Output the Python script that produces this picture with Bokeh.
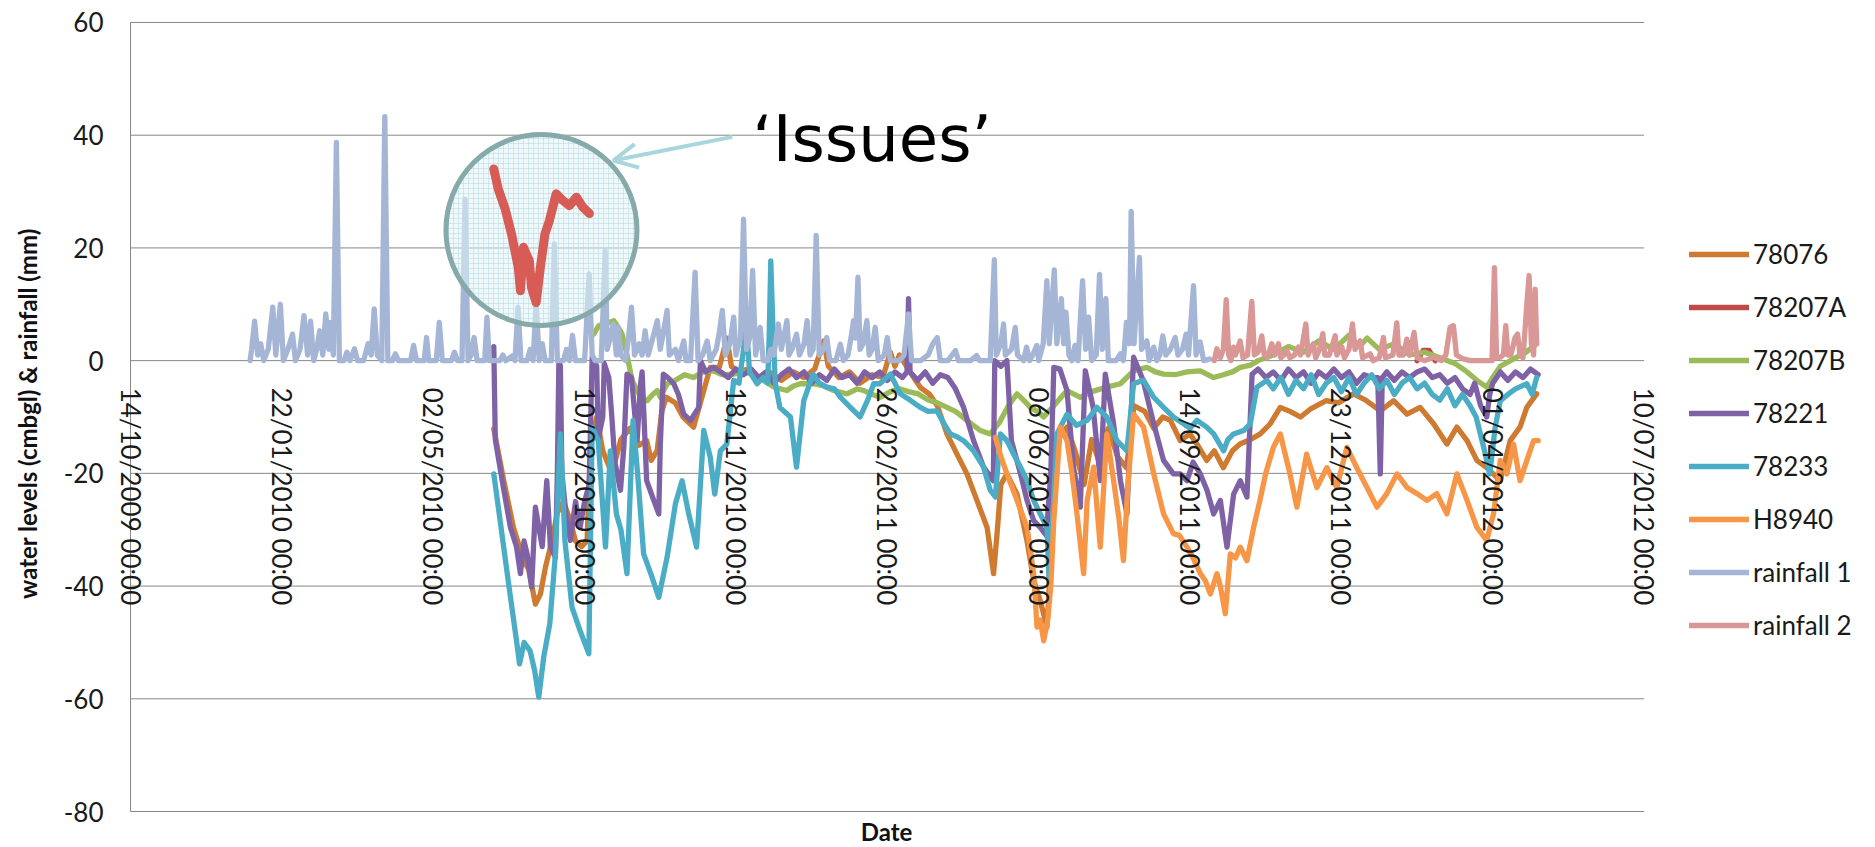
import math
from datetime import datetime
import numpy as np
from bokeh.plotting import figure
from bokeh.models import (Range1d, Legend, LegendItem, Arrow, OpenHead, Label, LabelSet,
                          ColumnDataSource)
from bokeh.core.properties import value
from bokeh.embed import file_html
from bokeh.resources import INLINE

# ---------------- data (day = days after 14/10/2009 00:00) ----------------
START_DATE = "2009-10-14"
END_DATE = "2012-07-10"
tick_dates = ["2009-10-14", "2010-01-22", "2010-05-02", "2010-08-10", "2010-11-18",
              "2011-02-26", "2011-06-06", "2011-09-14", "2011-12-23", "2012-04-01",
              "2012-07-10"]
y_ticks = [-80, -60, -40, -20, 0, 20, 40, 60]
y_tick_labels = ["-80", "-60", "-40", "-20", "0", "20", "40", "60"]

series_names = ["78076", "78207A", "78207B", "78221", "78233", "H8940",
                "rainfall 1", "rainfall 2"]

s_78076 = [(240, -12.1), (246.6, -21.3), (253, -29.6), (259.8, -35.5), (263, -37),
           (267.5, -43.2), (270.8, -41.4), (274.1, -36.7), (278.5, -31.9), (282, -27),
           (286, -25), (290, -28), (294, -32), (298, -33), (301.6, -32), (304, -15),
           (308, -10), (312, -16), (318, -20), (324, -14), (330, -12), (336, -15),
           (341, -14.2), (344, -17.7), (347.9, -16), (351, -9), (354, -6.5), (360, -7.5),
           (365, -10), (372, -11.8), (378, -6), (383, -1.2), (389, -1.2), (394, 4),
           (397, -1), (402, -2), (408, -1.5), (415, -3), (422, -2), (430, -3.5),
           (438, -2), (445, -3), (452, -1.5), (458, 3.5), (461, -1), (468, -3),
           (475, -2), (482, -4), (490, -2.5), (497, -3), (502, 1.5), (505, -1),
           (508, 1), (515, -2), (522, -4.8), (528, -6), (533, -8), (539.4, -13),
           (546, -16.6), (552.6, -20.1), (559.2, -24.8), (565.9, -29.6), (570.2, -37.8),
           (572.5, -30.7), (575, -22), (579, -20.1), (585.7, -23.7), (592.3, -32),
           (596.7, -39), (601, -42.6), (605.5, -47.3), (608, -35), (612, -14.2),
           (618.7, -11.8), (624, -16), (630, -22), (635, -14), (640, -18), (646, -12),
           (652, -17), (658, -19), (663, -8), (670, -9), (676, -12), (682, -10),
           (687, -10.6), (693.5, -14.2), (700, -13), (705, -15), (711, -17.7),
           (716, -16), (722, -19), (728, -16), (733, -14.8), (740, -14), (746.4, -13),
           (753, -11.2), (759.6, -8.3), (766, -9), (773, -10), (780, -8.5), (790, -7.1),
           (798, -7.5), (808, -5.9), (816, -7), (825.7, -8.9), (834.5, -7.1),
           (843.3, -9.5), (852, -8.3), (860.9, -11.2), (869.7, -14.8), (876.3, -11.8),
           (883, -14.2), (889.5, -17.7), (896, -19), (905, -21.3), (911.5, -14.2),
           (918, -11.8), (922.5, -8.3), (929, -5.9)]

s_78207A = [(850, 0), (854, 1.8), (858, 1.8), (862, 0)]

s_78207B = [(306, 4.7), (309.4, 6.2), (314, 6.5), (319.3, 7.1), (322, 6), (324.8, 4.7),
            (328, 1), (331.4, -3.5), (337, -6.5), (341.3, -7.1), (345, -6), (348, -5.3),
            (350, -6.5), (354.5, -4.1), (360, -3.5), (366, -2.5), (372, -3), (378, -2),
            (385, -1.8), (391, -2.5), (398.5, -2.4), (405, -2), (411.7, -2.4),
            (418, -3.5), (425, -4.7), (433.7, -5.3), (438, -4.5), (442.5, -4.1),
            (451, -4.1), (458, -4.5), (464.6, -5.3), (473.4, -5.9), (480, -5),
            (484.4, -5.3), (490, -6), (495.4, -6.5), (502, -5.5), (508, -5), (514, -5.5),
            (520.5, -5.9), (527, -7), (533, -7.5), (539.4, -8.3), (545, -9),
            (552.6, -10.6), (561.4, -12.4), (568, -13), (574, -11), (580, -8),
            (585.7, -5.9), (590, -7), (594.5, -8.3), (599, -9), (603.3, -10), (610, -8),
            (618.7, -5.3), (627.5, -6.5), (635, -5.5), (645, -4.7), (654, -4.1),
            (662.7, -1.8), (671.5, -1.2), (677, -2), (682.5, -2.4), (690, -2.5),
            (698, -2), (706.8, -1.8), (715.6, -3), (722, -2.5), (728, -2), (733.2, -1.2),
            (740, -0.8), (745, 0), (755, 1), (765, 2.5), (775, 1.5), (785, 3.5),
            (795, 2), (805, 4.5), (812, 2.5), (817, 4), (825, 2), (835, 3), (845, 1),
            (855, 1.5), (865, 0.5), (875, -0.5), (883, -2), (889.5, -3.5), (896, -4.7),
            (900, -3), (905, -1), (915, 0.5), (922, 1.5), (929, 3)]

s_78221 = [(240, 2.5), (241, -14), (246, -22), (251, -29.6), (255, -33), (257.6, -37.8),
           (260, -32), (262, -34.3), (265, -40.2), (267.5, -26), (270, -30), (272, -33),
           (275, -21.3), (277.4, -33), (280.7, -34.9), (282, -20), (283, 0), (284, -1),
           (285, -20), (288, -28), (290.6, -31.9), (294, -25), (297, -29.6), (300, -25),
           (303, -22), (305, 0.6), (308, -1), (309, -14), (312, -10), (313, -0.5),
           (316, -3), (318, -10), (320, -18), (323.7, -23), (326, -15), (328, -2.4),
           (331, -3), (334.7, -14.2), (337, -4), (338, -2), (341, -21.3), (345.7, -24.8),
           (349, -27.2), (350, -15), (352, -2.4), (355, -3), (358.9, -4.1), (362, -6),
           (365.5, -9.5), (370, -10.6), (375.4, -8.3), (376.5, 0), (380, -2),
           (385, -1.2), (390, -2), (395, -3), (400, -1.5), (405, -2.5), (410, -1.5),
           (415, -3), (420, -2), (425, -4), (430, -2.5), (435, -1.5), (440, -3),
           (445, -2), (450, -4), (455, -2.5), (460, -3.5), (465, -1.5), (470, -3),
           (475, -2.5), (480, -4), (485, -2), (490, -3), (495, -2), (500, -3.5),
           (505, -2), (510, -3), (513, -2), (514, 11), (515, -2), (520, -3.5), (525, -2),
           (530, -4), (535, -2.5), (540, -3), (545, -5), (550.4, -8.3), (557, -14.2),
           (563.6, -18.9), (570, -21.3), (571, 0), (575, -1), (579, 0), (582, -14.2),
           (588, -20.1), (592.3, -24.8), (596.7, -28.4), (601, -29.6), (605, -31),
           (608, -20), (610, -1.2), (614, -1.5), (618.7, -5.3), (623, -18.9),
           (627.5, -26), (630.8, -1.8), (636, -8.3), (640.7, -21.3), (644, -2.4),
           (649.5, -11.2), (654, -21.3), (658.3, -27.2), (662.7, 0.6), (669, -3.5),
           (676, -11.2), (682.5, -17.7), (689, -20.1), (693.6, -20.1), (698, -21.3),
           (702, -18), (706.8, -20.1), (711.2, -23), (715.6, -27.2), (720, -24.8),
           (724.4, -33.1), (728.8, -23.7), (733.2, -21.3), (737.6, -24.2), (741, -2.4),
           (745, -1.5), (750, -3), (755, -2), (760, -3.5), (765, -1.5), (770, -3),
           (775, -2), (780, -4), (785, -2), (790, -3), (795, -1.5), (800, -3), (805, -2),
           (810, -4), (815, -2.5), (820, -3), (824, -3), (825.7, -20.1), (827, -3),
           (830, -2), (835, -3.5), (840, -2), (845, -3), (850, -2), (855, -1.5),
           (860, -3), (865, -2.5), (870, -4), (875, -3), (880, -5), (885, -6), (888, -4),
           (892, -8), (896, -10), (898, -6), (900, -4), (905, -2), (910, -3.5),
           (915, -2), (920, -3), (925, -1.5), (930, -2.5)]

s_78233 = [(240, -20.1), (245, -30), (250, -40), (255, -49.7), (257, -53.8), (260, -50),
           (264, -51.5), (267, -55), (269.7, -59.7), (273, -52.6), (277, -46.7),
           (280.7, -34.3), (284, -13), (287, -32), (291.7, -43.8), (297, -47.9),
           (302.8, -52), (305, -11.8), (309, -14.2), (313.8, -33.1), (317, -16),
           (321, -27.2), (324, -30), (328, -37.8), (332, -10.6), (335, -20), (339, -34.3),
           (344, -38), (349, -42), (354.5, -34.9), (360, -25.4), (364.4, -21.3),
           (368.8, -27.2), (374, -33.1), (378.7, -12.4), (383, -17.1), (386, -23.7),
           (389.7, -16), (394, -14.8), (398.5, -3.5), (402, -4), (405, 2), (407, 5.9),
           (409, -2), (414, -4.1), (418, -3), (421, -4), (422, 5), (423, 17.7),
           (424.5, 5), (426, -4), (429, -8.3), (436, -10), (440, -18.9), (444.8, -7.1),
           (451, -2.4), (455, -4), (460, -4.7), (465, -5), (469, -6.5), (475.6, -8.3),
           (482, -10), (487, -7), (491, -4.1), (495, -4.1), (502, -2.4), (508.6, -5.9),
           (515, -7), (521.8, -8.3), (527, -9), (532.8, -8.9), (537, -11), (541.6, -13),
           (546, -13.5), (550.4, -14.2), (557, -16), (563.6, -18.9), (568, -23),
           (571.4, -24.2), (574.7, -13), (579, -14.2), (583.5, -16.6), (588, -18.9),
           (592.3, -21.3), (596.7, -24.8), (601, -27.2), (605.5, -29.6), (607, -40),
           (609, -30), (612, -13), (618.7, -9.5), (625, -11.5), (632, -10.6),
           (638.5, -8.3), (645, -10), (651.7, -14.2), (658.3, -16), (662.7, -4.1),
           (669.3, -3.5), (676, -6.5), (682.5, -8.3), (689, -10), (695.8, -11.2),
           (700, -12), (704.6, -10.6), (711, -11.8), (715.6, -13), (722.2, -16),
           (725, -14), (728.8, -13), (735.4, -12.4), (739.8, -11.2), (744.2, -4.7),
           (750.8, -3.5), (755, -5), (760, -3), (765, -6), (770, -3.5), (775, -5),
           (780, -2.5), (785, -6), (790, -4), (795, -3), (800, -5.5), (805, -3),
           (810, -6), (815, -4), (820, -2.5), (825, -5), (830, -3.5), (835, -6),
           (840, -4), (845, -3), (850, -5), (855, -4), (860, -6), (865, -7), (870, -5),
           (875, -8), (880, -6), (885, -8), (889, -10), (894, -15.4), (898, -20.1),
           (901.6, -11.8), (905, -7.1), (910, -6), (915, -5), (922.5, -4.1), (926, -6),
           (929, -3)]

s_H8940 = [(571.4, -13.6), (575, -17), (579, -20.1), (585.7, -24.8), (592.3, -29.6),
           (596.7, -37.8), (598.9, -47.3), (601, -46), (603.3, -49.7), (606, -46),
           (608, -40), (610, -28.4), (614.3, -11.8), (618.7, -14.2), (622, -20),
           (625.3, -27.2), (629.7, -37.8), (632, -24.8), (636.3, -18.9), (640.7, -33.1),
           (645, -13), (649.5, -21.3), (653, -28), (656, -35.5), (659, -22),
           (662.7, -9.5), (669.3, -11.8), (676, -20.1), (682.5, -27.2), (689, -30.7),
           (693, -31), (698, -33.1), (702, -35), (706.8, -37.8), (710, -39),
           (713.4, -41.4), (717.8, -37.8), (720, -40), (723.3, -44.9), (726.6, -34.3),
           (730, -35), (733.2, -33.1), (737.6, -35.5), (742, -29.6), (746, -25),
           (750, -20), (755, -15.4), (759.6, -13), (766, -20.1), (770.6, -26),
           (777, -16.6), (783.8, -22.5), (790.4, -19), (797, -22.5), (803.6, -15.4),
           (810.2, -19), (816.9, -22.5), (823.5, -26), (830, -23.6), (836.7, -20.1),
           (843.3, -22.5), (850, -23.6), (856.5, -24.8), (863, -23.6), (869.7, -27.2),
           (876.3, -20.1), (883, -24.8), (889.5, -29.6), (896, -31.9), (900.5, -27.2),
           (905, -17.7), (909.3, -20.1), (913.7, -14.8), (918, -21.3), (922.5, -17.7),
           (927, -14.2), (930, -14.2)]

s_rain1 = [(79, 0), (80, 2), (82, 7), (84, 1), (86, 3), (88, 0), (91, 2), (94, 9.5),
           (96, 1), (99, 10), (101, 0), (104, 2), (107, 4.7), (109, 0), (112, 2),
           (114.6, 8), (117, 1), (119, 7), (121, 0), (123, 2), (125, 5.3), (127, 1),
           (129, 8.3), (131, 2), (132, 6.8), (134, 1), (136, 38.7), (138, 0), (141, 0),
           (143, 1.5), (145, 0), (148, 2.1), (150, 0), (154, 0), (157, 3), (159, 1),
           (161, 9.2), (163, 1), (166, 0), (168, 43.3), (170, 0), (173, 0), (175, 1.2),
           (177, 0), (185, 0), (187, 2.7), (189, 0), (194, 0), (195.6, 4.1), (197, 0),
           (202, 0), (204, 6.8), (206, 0), (212, 0), (214, 1.5), (216, 0), (219, 0),
           (221, 28.6), (223, 0), (225, 1), (227, 4.1), (229, 0), (234, 0), (235.5, 7.7),
           (237, 0), (244, 0), (246, 1), (248, 0), (252, 0.8), (254, 0), (256, 9.5),
           (258, 0), (262, 0), (264, 2), (266, 0), (268, 10.6), (270, 0), (272, 3),
           (274, 0), (278, 0), (280, 20.7), (282, 0), (286, 0), (288, 2), (290, 0),
           (292, 4.5), (294, 0), (300, 0), (303, 15.4), (305, 1), (307, 0), (311, 0),
           (313.6, 19.5), (315, 2), (319, 6.5), (321, 1), (322, 6), (324, 1), (327, 0),
           (329, 4), (331, 9.5), (333, 1), (336, 3), (338, 1), (340, 5.3), (342, 1),
           (345, 4), (348, 7.1), (350, 2), (352, 5), (354.5, 8.9), (356, 1), (360, 2),
           (362, 0), (365.5, 3.5), (367, 0), (370, 0), (373, 15.7), (375, 0), (378, 1),
           (381, 3.5), (383, 0), (387, 2), (389, 5), (391, 8.9), (393, 1), (396, 3),
           (398.5, 7.7), (400, 1), (403, 4), (405, 25.1), (407, 2), (409, 4), (411, 16),
           (413, 1), (416, 5.9), (418, 0), (421, 0), (423, 2), (425, 1), (428, 6.5),
           (430, 2), (433.7, 7.1), (435, 1), (437, 2), (440, 4.7), (442, 1), (445, 3),
           (447, 7.1), (449, 1), (451, 2), (453, 22.2), (455, 1), (458, 2), (460, 4.1),
           (462, 0), (466, 0), (469, 2.9), (471, 0), (474, 1), (476, 4), (477.7, 7.1),
           (479, 4), (480.6, 14.8), (482, 2), (484, 3), (486.5, 7.1), (488, 1), (490, 2),
           (492, 5.9), (494, 0), (498, 1), (500, 4.1), (502, 0), (508, 0), (511, 1),
           (514, 8.3), (516, 0), (522, 0), (527, 1), (530, 3), (533, 4.1), (535, 0),
           (540, 0), (545, 1.8), (547, 0), (555, 0), (559, 0.9), (561, 0), (568, 0),
           (570.7, 17.9), (572, 1), (575, 3), (576.8, 6.5), (578, 1), (582, 2),
           (584.5, 5.9), (586, 1), (590, 0), (592, 2.4), (594, 0), (596, 1),
           (598.8, 2.7), (600, 0), (603, 3), (605.4, 14.2), (607, 3), (610.3, 16.1),
           (612, 3), (615, 11), (616.5, 3), (618, 8.6), (620, 1), (622, 0), (624, 2.7),
           (626, 0), (629, 14.2), (631, 2), (633, 7.7), (635, 0), (638, 1),
           (640.2, 15.3), (642, 2), (644.4, 11), (646, 0), (651, 0), (654, 1.2),
           (656, 0), (658, 6.8), (660, 3), (661.1, 26.5), (663, 3), (666.6, 18.3),
           (668, 2), (671.5, 3.5), (673, 0), (676, 2.4), (678, 0), (680, 1), (682, 4.4),
           (684, 1), (687, 2), (690.2, 4.1), (692, 1), (695, 2), (697.4, 4.7), (699, 1),
           (702.3, 13.3), (704, 1), (706.7, 3.3), (709, 0), (713, 0.3)]

s_rain2 = [(716, 0), (717.7, 2.1), (720, 0.5), (722, 2), (723.9, 10.8), (725.5, 1),
           (727, 0), (728.7, 2.4), (730, 1), (733.1, 3.5), (735, 0.5), (738, 1),
           (740.8, 10.5), (742.5, 1), (745, 1.5), (747.4, 4.4), (749, 1), (751, 0.5),
           (754, 3), (756, 1), (758.4, 3), (760, 0.5), (762, 1), (764, 1.8), (766, 0.5),
           (769, 1), (771.6, 2.4), (773, 1), (776.5, 6.5), (778, 1), (779.5, 2),
           (781.5, 3), (783, 0.5), (785.5, 2), (787.7, 4.8), (789, 1), (792, 1),
           (795.9, 4.4), (797, 1), (800.3, 2.4), (802, 0.5), (805, 2), (807.3, 6.5),
           (809, 2), (812.4, 3.5), (814, 0.5), (819, 1.2), (821, 0), (825, 0.5),
           (827.8, 4.1), (829, 0.5), (834, 1), (836.6, 6.7), (838, 1), (841, 1),
           (843.2, 3.8), (845, 1), (848, 5), (850, 0.5), (855, 0), (861, 0.6), (866, 0),
           (869, 1), (871.8, 5.9), (874, 6.2), (876, 1), (880.6, 0.3), (885, 0),
           (899.5, 0), (901.1, 16.5), (902.5, 0.5), (905, 0.6), (907, 1), (908.6, 6.2),
           (910, 1), (912, 1), (914.7, 4.1), (916.4, 4.7), (918, 1), (920, 0.5),
           (922.5, 10), (924, 15.1), (925.5, 3), (927, 1), (928, 12.7), (929, 3)]

# magnified view of the 78207A problem, shown inside the annotation circle
s_issues = [(240.0, 34.0), (242.9, 30.5), (247.4, 27.0), (251.7, 22.5), (256.2, 16.5),
            (257.6, 12.4), (259.6, 20.1), (263.5, 17.7), (264.9, 13.0), (268.0, 10.3),
            (270.8, 16.6), (273.8, 22.5), (276.7, 24.8), (281.2, 29.6), (285.7, 28.4),
            (290.0, 27.5), (294.6, 29.0), (298.9, 27.2), (303.2, 26.1)]

# ---------------- styling / layout ----------------
COLORS = ["#CE7A31", "#BE4B48", "#9BBB59", "#7F62A5", "#4BACC6", "#F79646",
          "#A4B5D5", "#D99795"]
FONT = "Lato"
GRID = "#878787"
TEXT = "#1a1a1a"
LW = 5.3
W, H = 1874, 846

# the plotting frame fills the whole canvas; the chart's own plot area
# (14/10/2009..10/07/2012, -80..60) sits inside it as in the original
VIEW_DAYS = (-85.9, 1152.2)
VIEW_VALS = (-86.21, 63.90)

DAY_MS = 86400000.0
START_MS = float(np.datetime64(START_DATE, "ms").astype("int64"))
END_MS = float(np.datetime64(END_DATE, "ms").astype("int64"))


def ms(day):
    return START_MS + day * DAY_MS


def xs(pairs):
    return [ms(d) for d, _ in pairs]


def ys(pairs):
    return [v for _, v in pairs]


p = figure(width=W, height=H, x_axis_type="datetime",
           x_range=Range1d(ms(VIEW_DAYS[0]), ms(VIEW_DAYS[1])),
           y_range=Range1d(VIEW_VALS[0], VIEW_VALS[1]),
           output_backend="svg", toolbar_location=None, min_border=0,
           min_border_left=0, min_border_right=0, min_border_top=0,
           min_border_bottom=0)
p.outline_line_color = None
p.background_fill_color = "white"
p.xaxis.visible = False
p.yaxis.visible = False
p.xgrid.visible = False
p.ygrid.visible = False

# horizontal gridlines and vertical axis line of the plot area
p.segment(x0=[START_MS] * len(y_ticks), y0=y_ticks, x1=[END_MS] * len(y_ticks),
          y1=y_ticks, line_color=GRID, line_width=1)
p.segment(x0=[START_MS], y0=[min(y_ticks)], x1=[START_MS], y1=[max(y_ticks)],
          line_color=GRID, line_width=1)

# series
all_series = [s_78076, s_78207A, s_78207B, s_78221, s_78233, s_H8940, s_rain1, s_rain2]
renderers = []
for data, col in zip(all_series, COLORS):
    r = p.line(xs(data), ys(data), line_color=col, line_width=LW, line_join="round",
               line_cap="round")
    renderers.append(r)

# y tick labels
ytick_src = ColumnDataSource(dict(x=[START_MS] * len(y_ticks), y=y_ticks,
                                  text=y_tick_labels))
p.add_layout(LabelSet(x="x", y="y", text="text", source=ytick_src, x_offset=-27,
                      text_align="right", text_baseline="middle",
                      text_font=value(FONT), text_font_size="26px", text_color=TEXT))

# date tick labels, hanging below the zero line
xtick_src = ColumnDataSource(dict(
    x=[float(np.datetime64(d, "ms").astype("int64")) for d in tick_dates],
    y=[0.0] * len(tick_dates),
    text=[datetime.strptime(d, "%Y-%m-%d").strftime("%d/%m/%Y %H:%M") for d in tick_dates]))
p.add_layout(LabelSet(x="x", y="y", text="text", source=xtick_src, angle=-math.pi / 2,
                      y_offset=-27, text_align="left", text_baseline="middle",
                      text_font=value(FONT), text_font_size="26px", text_color=TEXT))

# axis titles
p.add_layout(Label(x=ms(499.5), y=-83.58, text="Date", text_font=FONT,
                   text_font_size="24px", text_font_style="bold", text_color="#111111",
                   text_align="center", text_baseline="middle"))
p.add_layout(Label(x=ms(-68.0), y=-9.4, text="water levels (cmbgl) & rainfall (mm)",
                   angle=math.pi / 2, text_font=FONT, text_font_size="24px",
                   text_font_style="bold", text_color="#111111", text_align="center",
                   text_baseline="middle"))

legend = Legend(items=[LegendItem(label=n, renderers=[r])
                       for n, r in zip(series_names, renderers)],
                location=(1689, 205), orientation="vertical", glyph_width=60,
                glyph_height=30, label_height=30, label_standoff=4, spacing=21,
                padding=0, margin=0, border_line_color=None, background_fill_alpha=0,
                label_text_font=FONT, label_text_font_size="26px",
                label_text_color=TEXT)
p.add_layout(legend, "center")

# ---------------- 'Issues' annotation ----------------
circle_day, circle_val = 271.5, 23.2
p.scatter([ms(circle_day)], [circle_val], marker="circle", size=191,
          fill_color="#E4F3F6", fill_alpha=0.55, hatch_pattern="+",
          hatch_color="#B9DDE6", hatch_scale=5, hatch_weight=1, hatch_alpha=0.6,
          line_color="#86A9A9", line_width=5)
p.line(xs(s_issues), ys(s_issues), line_color="#D65C55", line_width=9,
       line_join="round", line_cap="round")

arrow_start = (397.6, 39.7)
arrow_end = (319.0, 35.5)
p.add_layout(Arrow(end=OpenHead(size=24, line_color="#A9D6DD", line_width=4),
                   x_start=ms(arrow_start[0]), y_start=arrow_start[1],
                   x_end=ms(arrow_end[0]), y_end=arrow_end[1],
                   line_color="#A9D6DD", line_width=4))
p.add_layout(Label(x=ms(410.8), y=39.4, text="\u2018Issues\u2019",
                   text_font="DejaVu Sans", text_font_size="64px",
                   text_color="#000000", text_baseline="middle", text_align="left"))

open("out.html", "w").write(file_html(p, INLINE))
